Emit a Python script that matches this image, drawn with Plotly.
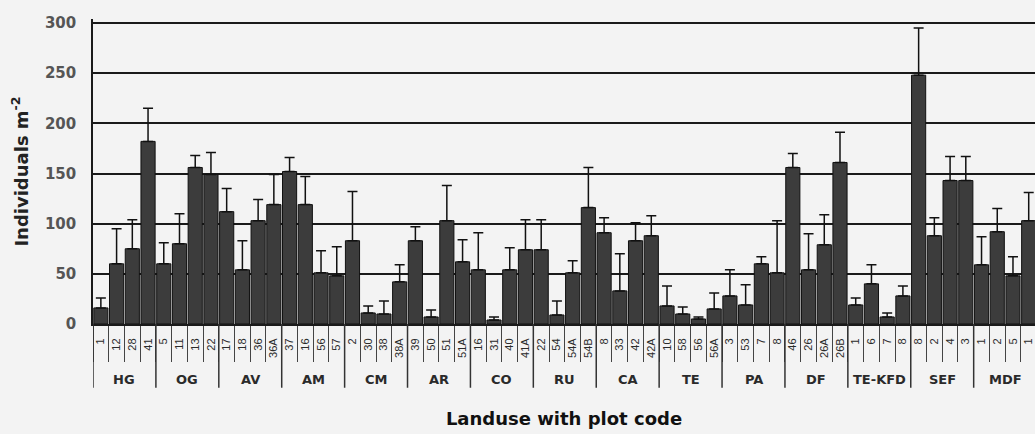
import plotly.graph_objects as go

# Land-use groups and the plot codes sampled within each
groups = ["HG", "OG", "AV", "AM", "CM", "AR", "CO", "RU", "CA", "TE",
          "PA", "DF", "TE-KFD", "SEF", "MDF"]
plot_codes = [
    ["1", "12", "28", "41"],
    ["5", "11", "13", "22"],
    ["17", "18", "36", "36A"],
    ["37", "16", "56", "57"],
    ["2", "30", "38", "38A"],
    ["39", "50", "51", "51A"],
    ["16", "31", "40", "41A"],
    ["22", "54", "54A", "54B"],
    ["8", "33", "42", "42A"],
    ["10", "58", "56", "56A"],
    ["3", "53", "7", "8"],
    ["46", "26", "26A", "26B"],
    ["1", "6", "7", "8"],
    ["8", "2", "4", "3"],
    ["1", "2", "5", "1"],
]

# Mean density (individuals per m2) and its standard error per plot
density = [16, 60, 75, 182,
           60, 80, 156, 149,
           112, 54, 103, 119,
           152, 119, 51, 48,
           83, 11, 10, 42,
           83, 7, 103, 62,
           54, 4, 54, 74,
           74, 9, 51, 116,
           91, 33, 83, 88,
           18, 10, 5, 15,
           28, 19, 60, 51,
           156, 54, 79, 161,
           19, 40, 7, 28,
           248, 88, 143, 143,
           59, 92, 48, 103]
std_error = [10, 35, 29, 33,
             21, 30, 12, 22,
             23, 29, 21, 30,
             14, 28, 22, 29,
             49, 7, 13, 17,
             14, 7, 35, 22,
             37, 3, 22, 30,
             30, 14, 12, 40,
             15, 37, 18, 20,
             20, 7, 2, 16,
             26, 20, 7, 52,
             14, 36, 30, 30,
             7, 19, 4, 10,
             47, 18, 24, 24,
             28, 23, 19, 28]
y_ticks = [0, 50, 100, 150, 200, 250, 300]

codes_flat = [c for grp in plot_codes for c in grp]
positions = list(range(len(codes_flat)))

INK = "#1a1a1a"
BG = "#f3f3f3"

fig = go.Figure()
fig.add_trace(go.Bar(
    x=positions,
    y=density,
    marker=dict(color="#3c3c3c", line=dict(color="#111111", width=1)),
    error_y=dict(type="data", symmetric=False, array=std_error,
                 arrayminus=[0] * len(std_error),
                 color="#111111", thickness=1.5, width=5),
    showlegend=False,
))

# Group dividers and group names below the plot codes
start = 0
shapes = []
annotations = []
for name, codes in zip(groups, plot_codes):
    shapes.append(dict(type="line", xref="x", yref="paper",
                       x0=start - 0.5, x1=start - 0.5, y0=0, y1=-0.209,
                       line=dict(color="#333333", width=1.5)))
    annotations.append(dict(x=start + (len(codes) - 1) / 2, xref="x",
                            y=-0.183, yref="paper", yanchor="middle",
                            text=name, showarrow=False,
                            font=dict(family="DejaVu Sans", size=13,
                                      color="#2a2a2a", weight="bold")))
    start += len(codes)
shapes.append(dict(type="line", xref="x", yref="paper",
                   x0=start - 0.5, x1=start - 0.5, y0=0, y1=-0.209,
                   line=dict(color="#333333", width=1.5)))

fig.update_layout(
    width=1035, height=434,
    margin=dict(l=93, r=0, t=19, b=110),
    paper_bgcolor=BG, plot_bgcolor=BG,
    bargap=0.1,
    shapes=shapes,
    annotations=annotations,
    xaxis=dict(
        range=[-0.5, 59.4],
        tickmode="array", tickvals=positions, ticktext=codes_flat,
        tickangle=-90, ticks="", ticklabelstandoff=8,
        tickfont=dict(family="Liberation Sans", size=11, color="#2a2a2a"),
        minor=dict(ticks="outside", tickmode="linear", tick0=-0.5, dtick=1,
                   ticklen=36, tickwidth=1, tickcolor="#444444",
                   showgrid=False),
        showline=True, linecolor=INK, linewidth=2,
        showgrid=False, zeroline=False, automargin=False,
        title=dict(text="Landuse with plot code", standoff=55,
                   font=dict(family="DejaVu Sans", size=18, color="#111111",
                             weight="bold")),
    ),
    yaxis=dict(
        range=[0, 304],
        tickmode="array", tickvals=y_ticks,
        ticks="", ticklabelstandoff=12,
        tickfont=dict(family="DejaVu Sans", size=15, color="#555555",
                      weight="bold"),
        showgrid=True, gridcolor=INK, gridwidth=1.5,
        showline=True, linecolor=INK, linewidth=1.5,
        zeroline=False, automargin=False,
        title=dict(text="Individuals m<sup>-2</sup>", standoff=12,
                   font=dict(family="DejaVu Sans", size=18, color="#222222",
                             weight="bold")),
    ),
)

fig.write_html("out.html")
